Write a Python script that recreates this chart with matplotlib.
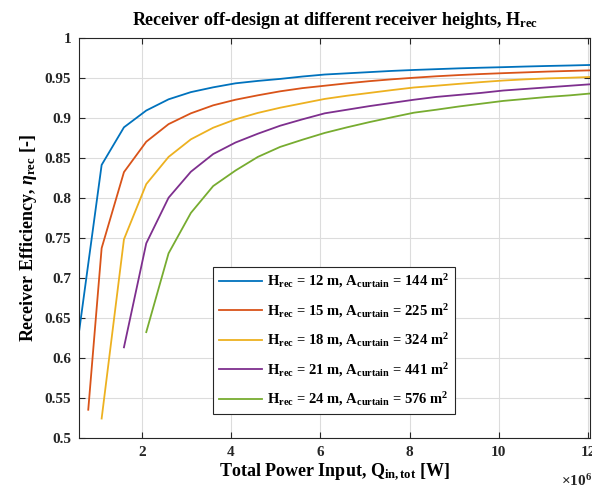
import matplotlib
matplotlib.use("Agg")
import matplotlib.pyplot as plt
from matplotlib.ticker import FuncFormatter

plt.rcParams['font.family'] = ['Liberation Serif', 'DejaVu Serif']
plt.rcParams['font.weight'] = 'bold'
plt.rcParams['mathtext.fontset'] = 'custom'
plt.rcParams['mathtext.rm'] = 'Liberation Serif:bold'
plt.rcParams['mathtext.bf'] = 'Liberation Serif:bold'
plt.rcParams['mathtext.it'] = 'Liberation Serif:italic:bold'

# Data (W, efficiency)
q_blue = [0.6e6, 1.1e6, 1.6e6, 2.1e6, 2.6e6, 3.1e6, 3.6e6, 4.1e6, 4.6e6, 5.1e6, 5.6e6, 6.1e6,
          6.6e6, 7.1e6, 7.6e6, 8.1e6, 8.6e6, 9.1e6, 9.6e6, 10.1e6, 10.6e6, 11.1e6, 11.6e6, 12.1e6]
eta_12 = [0.635, 0.841, 0.888, 0.909, 0.923, 0.932, 0.938, 0.943, 0.946, 0.9485, 0.9515, 0.954,
          0.9555, 0.957, 0.9585, 0.9597, 0.9607, 0.9617, 0.9625, 0.9632, 0.964, 0.9647, 0.9653, 0.966]

q_orange = [0.8e6, 1.1e6, 1.6e6, 2.1e6, 2.6e6, 3.1e6, 3.6e6, 4.1e6, 4.6e6, 5.1e6, 5.6e6, 6.1e6,
            6.6e6, 7.1e6, 7.6e6, 8.1e6, 8.6e6, 9.1e6, 9.6e6, 10.1e6, 10.6e6, 11.1e6, 11.6e6, 12.1e6]
eta_15 = [0.535, 0.737, 0.832, 0.870, 0.892, 0.9055, 0.9155, 0.9225, 0.928, 0.933, 0.937, 0.940,
          0.943, 0.9457, 0.948, 0.950, 0.9518, 0.9533, 0.9546, 0.9557, 0.9567, 0.9577, 0.9585, 0.9593]

q_yellow = [1.1e6, 1.6e6, 2.1e6, 2.6e6, 3.1e6, 3.6e6, 4.1e6, 4.6e6, 5.1e6, 5.6e6, 6.1e6,
            6.6e6, 7.1e6, 7.6e6, 8.1e6, 8.6e6, 9.1e6, 9.6e6, 10.1e6, 10.6e6, 11.1e6, 11.6e6, 12.1e6]
eta_18 = [0.524, 0.748, 0.817, 0.851, 0.873, 0.8875, 0.898, 0.906, 0.9125, 0.918, 0.9235,
          0.9275, 0.931, 0.9345, 0.9378, 0.940, 0.9423, 0.9445, 0.9465, 0.948, 0.9492, 0.950, 0.951]

q_purple = [1.6e6, 2.1e6, 2.6e6, 3.1e6, 3.6e6, 4.1e6, 4.6e6, 5.1e6, 5.6e6, 6.1e6,
            6.6e6, 7.1e6, 7.6e6, 8.1e6, 8.6e6, 9.1e6, 9.6e6, 10.1e6, 10.6e6, 11.1e6, 11.6e6, 12.1e6]
eta_21 = [0.613, 0.743, 0.800, 0.8325, 0.8546, 0.869, 0.880, 0.890, 0.898, 0.9055,
          0.910, 0.9145, 0.9185, 0.9225, 0.926, 0.9285, 0.931, 0.934, 0.936, 0.938, 0.940, 0.942]

q_green = [2.1e6, 2.6e6, 3.1e6, 3.6e6, 4.1e6, 4.6e6, 5.1e6, 5.6e6, 6.1e6,
           6.6e6, 7.1e6, 7.6e6, 8.1e6, 8.6e6, 9.1e6, 9.6e6, 10.1e6, 10.6e6, 11.1e6, 11.6e6, 12.1e6]
eta_24 = [0.632, 0.7305, 0.781, 0.8146, 0.834, 0.851, 0.8635, 0.8725, 0.881,
          0.888, 0.8945, 0.9005, 0.9063, 0.910, 0.914, 0.9175, 0.921, 0.9235, 0.926, 0.928, 0.9305]

series_x = [q_blue, q_orange, q_yellow, q_purple, q_green]
series_y = [eta_12, eta_15, eta_18, eta_21, eta_24]
heights = [12, 15, 18, 21, 24]
areas = [144, 225, 324, 441, 576]
colors = ['#0072BD', '#D95319', '#EDB120', '#7E2F8E', '#77AC30']

x_ticks = [2e6, 4e6, 6e6, 8e6, 10e6, 12e6]
y_ticks = [0.5, 0.55, 0.6, 0.65, 0.7, 0.75, 0.8, 0.85, 0.9, 0.95, 1.0]

fig = plt.figure(figsize=(5.92, 4.95), dpi=100)
ax = fig.add_axes([0.134, 0.1157, 0.863, 0.8081])

for x, y, h, a, c in zip(series_x, series_y, heights, areas, colors):
    ax.plot(x, y, color=c, lw=1.3,
            label=r"H$_{\mathrm{rec}}$ = %d m, A$_{\mathrm{curtain}}$ = %d m$^{2}$" % (h, a))

ax.set_xlim(0.6e6, 12.05e6)
ax.set_ylim(0.5, 1.0)
ax.set_xticks(x_ticks)
ax.set_yticks(y_ticks)
ax.yaxis.set_major_formatter(FuncFormatter(lambda v, p: "%g" % v))
ax.xaxis.set_major_formatter(FuncFormatter(lambda v, p: "%g" % (v / 1e6)))

ax.grid(True, color='#dcdcdc', lw=0.8)
ax.set_axisbelow(True)
ax.tick_params(direction='in', top=True, right=True, length=4, width=0.8,
               labelsize=11, colors='#262626', pad=6)
for lab in ax.get_xticklabels() + ax.get_yticklabels():
    lab.set_fontweight('bold')
for sp in ax.spines.values():
    sp.set_color('#262626')
    sp.set_linewidth(0.8)

ax.set_title(r"Receiver off-design at different receiver heights, H$_{\mathrm{rec}}$",
             fontsize=13, fontweight='bold', pad=9)
ax.set_xlabel(r"Total Power Input, Q$_{\mathrm{in,tot}}$ [W]", fontsize=13, fontweight='bold',
              labelpad=2)
ax.set_ylabel(r"Receiver Efficiency, $\eta_{\mathrm{rec}}$ [-]", fontsize=13, fontweight='bold',
              labelpad=4)
ax.text(1.004, -0.088, r"$\times$10$^{6}$", transform=ax.transAxes, fontsize=11,
        ha='right', va='top', color='#262626')

leg = ax.legend(loc='lower left', bbox_to_anchor=(0.261, 0.0585), fontsize=10.5,
                frameon=True, fancybox=False, edgecolor='#262626', framealpha=1,
                handlelength=3.0, labelspacing=0.8, borderpad=0.4, handletextpad=0.35,
                borderaxespad=0)
leg.get_frame().set_linewidth(0.8)

fig.savefig("out.png", dpi=100)
